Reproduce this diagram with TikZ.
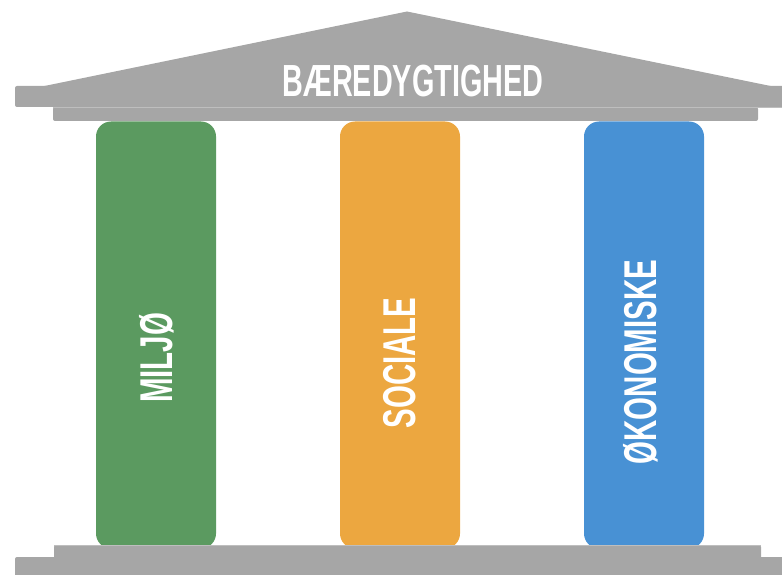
\documentclass[tikz,border=0pt]{standalone}
\usepackage{fontspec}
\newfontfamily\capsfont[FakeStretch=0.64]{Liberation Sans}
\definecolor{roofgray}{RGB}{166,166,166}
\definecolor{seamgray}{RGB}{190,190,190}
\definecolor{miljogreen}{RGB}{91,154,96}
\definecolor{socialorange}{RGB}{236,167,64}
\definecolor{okoblue}{RGB}{72,145,212}
\tikzset{
  slab/.style={fill=roofgray,draw=none,rounded corners=2pt},
  pillar/.style={draw=none,rounded corners=15pt,minimum width=120pt,minimum height=427pt,inner sep=0pt},
  pillartext/.style={text=white,rotate=90,font=\capsfont\bfseries\fontsize{46}{46}\selectfont,inner sep=0pt},
}
\begin{document}
\begin{tikzpicture}[x=1pt,y=-1pt]
  \useasboundingbox (0,0) rectangle (782,575);
%%
  % Node: roof
  \fill[roofgray] (42,86.5) -- (407,11.5) -- (773,86.5) -- cycle;
  \fill[slab] (15,86) rectangle (800,107);
  \fill[slab] (53,107) rectangle (758,121);
  \draw[seamgray,line width=0.8pt] (53,107) -- (782,107);
  \node[text=white,font=\capsfont\bfseries\fontsize{45}{45}\selectfont,inner sep=0pt] (title) at (413,81) {BÆREDYGTIGHED};
  % Node: pillars
  \node[pillar,fill=miljogreen] (miljo) at (156,335) {};
  \node[pillar,fill=socialorange] (sociale) at (400,335) {};
  \node[pillar,fill=okoblue] (oko) at (644,335) {};
  \node[pillartext] (miljotext) at (157,358) {MILJØ};
  \node[pillartext] (socialetext) at (400,363) {SOCIALE};
  \node[pillartext] (okotext) at (641,362) {ØKONOMISKE};
  % Node: base
  \fill[slab] (54,545) rectangle (761,565);
  \fill[slab] (15,557) rectangle (800,590);
  \draw[seamgray,line width=0.8pt] (54,545.3) -- (761,545.3);
%
\end{tikzpicture}
\end{document}
